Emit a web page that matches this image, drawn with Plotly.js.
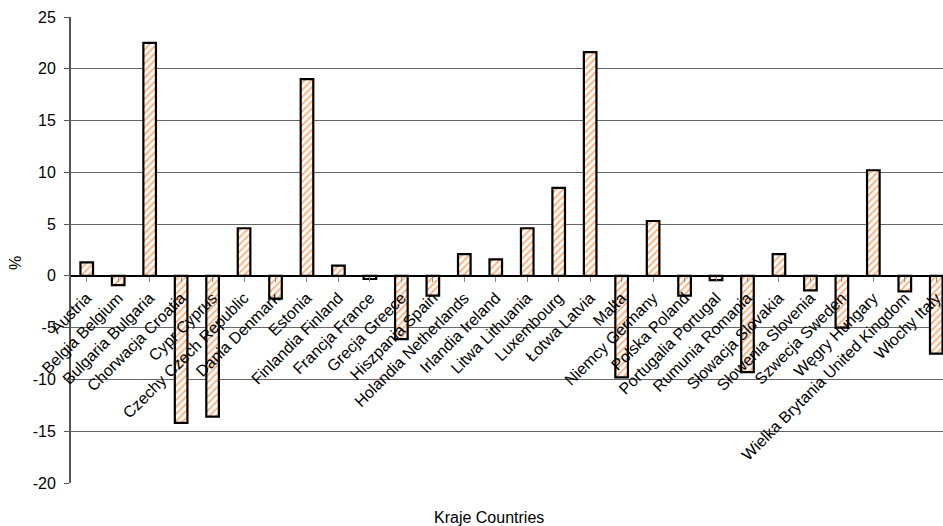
<!DOCTYPE html>
<html>
<head>
<meta charset="utf-8">
<script src="https://cdn.plot.ly/plotly-3.0.1.min.js"></script>
<style>html,body{margin:0;padding:0;background:#fff;overflow:hidden;width:943px;height:526px;}#chart{width:952px;height:526px;}</style>
</head>
<body>
<div id="chart"></div>
<script>
const countries = ["Austria","Belgia Belgium","Bulgaria Bulgaria","Chorwacja Croatia","Cypr Cyprus","Czechy Czech Republic","Dania Denmark","Estonia","Finlandia Finland","Francja France","Grecja Greece","Hiszpania Spain","Holandia Netherlands","Irlandia Ireland","Litwa Lithuania","Luxembourg","Łotwa Latvia","Malta","Niemcy Germany","Polska Poland","Portugalia Portugal","Rumunia Romania","Słowacja Slovakia","Słowenia Slovenia","Szwecja Sweden","Węgry Hungary","Wielka Brytania United Kingdom","Włochy Italy"];
const values = [1.3,-0.9,22.5,-14.2,-13.6,4.6,-2.2,19.0,1.0,-0.3,-6.1,-1.9,2.1,1.6,4.6,8.5,21.6,-9.8,5.3,-1.9,-0.4,-9.3,2.1,-1.4,-5.0,10.2,-1.5,-7.5];
const yTicks = [-20,-15,-10,-5,0,5,10,15,20,25];
const yTickText = yTicks.map(v => String(v));
const xTitle = "Kraje Countries";
const yTitle = "%";

const font = {family: "Liberation Sans, Arial, sans-serif", size: 16, color: "#000"};
const trace = {
  type: "bar",
  x: countries.map((c, i) => i),
  y: values,
  width: 0.4,
  marker: {
    color: "#ffffff",
    line: {color: "#000", width: 2.2},
    pattern: {shape: "/", fgcolor: "#ffae75", bgcolor: "#ffffff", size: 5, solidity: 0.35}
  },
  hoverinfo: "skip"
};
const yMin = -20, yMax = 25;
const layout = {
  width: 952, height: 526,
  margin: {l: 71, r: 0, t: 17, b: 43, pad: 0},
  paper_bgcolor: "#fff", plot_bgcolor: "#fff",
  font: font,
  showlegend: false,
  xaxis: {
    range: [-0.5, 27.5],
    tickmode: "array",
    tickvals: countries.map((c, i) => i),
    ticktext: countries,
    tickangle: -45,
    tickfont: font,
    anchor: "free",
    position: (0 - yMin) / (yMax - yMin),
    showline: true, linecolor: "#000", linewidth: 1.5,
    ticks: "outside", ticklen: 5, tickcolor: "#888", tickwidth: 1,
    tickson: "boundaries",
    showgrid: false, zeroline: false,
    automargin: false,
    fixedrange: true
  },
  yaxis: {
    range: [yMin, yMax],
    tickmode: "array",
    tickvals: yTicks,
    ticktext: yTickText,
    tickfont: font,
    ticklabelstandoff: 5,
    showgrid: true, gridcolor: "#666", gridwidth: 1,
    zeroline: true, zerolinecolor: "#000", zerolinewidth: 1.5,
    showline: true, linecolor: "#555", linewidth: 2,
    ticks: "outside", ticklen: 5, tickcolor: "#555",
    automargin: false,
    fixedrange: true
  },
  annotations: [
    {text: xTitle, xref: "paper", yref: "paper", x: 0.4745, y: -0.073, xanchor: "center", yanchor: "middle", showarrow: false, font: font},
    {text: yTitle, xref: "paper", yref: "paper", x: -0.0636, y: 0.472, xanchor: "center", yanchor: "middle", showarrow: false, textangle: -90, font: font}
  ]
};
Plotly.newPlot("chart", [trace], layout, {displayModeBar: false, staticPlot: true});
</script>
</body>
</html>
